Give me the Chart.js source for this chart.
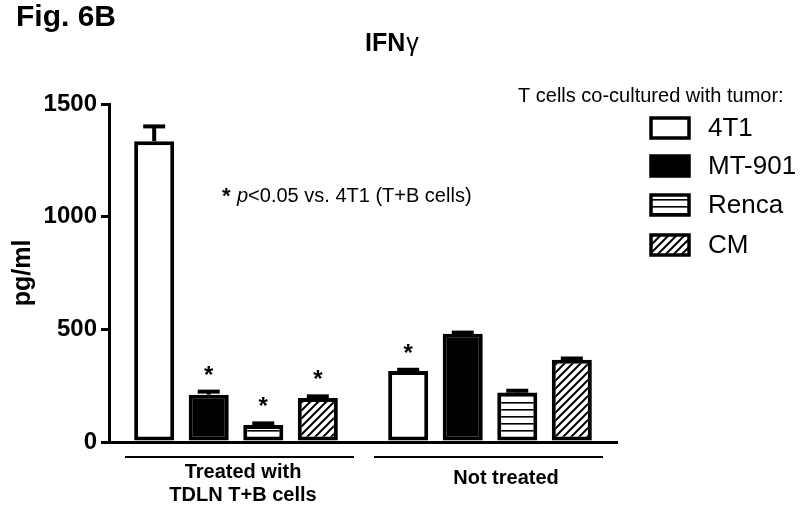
<!DOCTYPE html>
<html>
<head>
<meta charset="utf-8">
<script src="https://cdn.jsdelivr.net/npm/chart.js@4/dist/chart.umd.min.js"></script>
<style>
  html,body{margin:0;padding:0;background:#fff;}
  canvas{display:block;}
</style>
</head>
<body>
<canvas id="c" width="800" height="506"></canvas>
<script>
/* ========= DATA ========= */
const groups   = ['Treated with TDLN T+B cells', 'Not treated'];
const series   = ['4T1', 'MT-901', 'Renca', 'CM'];
const means    = [[1335, 315], [210, 480], [75, 220], [195, 365]];
const errs     = [[70, 10], [18, 10], [12, 12], [12, 10]];
const stars    = [[false, true], [true, false], [true, false], [true, false]];
const yTicks   = [0, 500, 1000, 1500];

const FONT = '"Liberation Sans", Arial, sans-serif';
const ctx = document.getElementById('c').getContext('2d');

/* ========= PATTERNS ========= */
function makeStripes(){
  const c = document.createElement('canvas'); c.width = 7; c.height = 7;
  const g = c.getContext('2d');
  g.fillStyle = '#fff'; g.fillRect(0,0,7,7);
  g.fillStyle = '#000'; g.fillRect(0,3,7,1.6);
  return ctx.createPattern(c, 'repeat');
}
function makeHatch(){
  const s = 8;
  const c = document.createElement('canvas'); c.width = s; c.height = s;
  const g = c.getContext('2d');
  g.fillStyle = '#fff'; g.fillRect(0,0,s,s);
  g.strokeStyle = '#000'; g.lineWidth = 2;
  g.beginPath();
  g.moveTo(0,s); g.lineTo(s,0);
  g.moveTo(-2,2); g.lineTo(2,-2);
  g.moveTo(s-2,s+2); g.lineTo(s+2,s-2);
  g.stroke();
  return ctx.createPattern(c, 'repeat');
}
const fills = ['#ffffff', '#000000', makeStripes(), makeHatch()];

/* ========= PLUGINS ========= */
const errorBars = {
  id: 'errorBars',
  afterDatasetsDraw(chart){
    const c = chart.ctx, y = chart.scales.y;
    c.save();
    c.strokeStyle = '#000'; c.lineCap = 'butt';
    chart.data.datasets.forEach((ds, di) => {
      chart.getDatasetMeta(di).data.forEach((bar, i) => {
        const top = y.getPixelForValue(means[di][i] + errs[di][i]);
        c.lineWidth = 4;
        c.beginPath(); c.moveTo(bar.x, bar.y); c.lineTo(bar.x, top); c.stroke();
        c.beginPath(); c.moveTo(bar.x - 11, top + 1); c.lineTo(bar.x + 11, top + 1); c.stroke();
        if (stars[di][i]) {
          c.fillStyle = '#000';
          c.font = 'bold 24px ' + FONT;
          c.textAlign = 'center'; c.textBaseline = 'alphabetic';
          c.fillText('*', bar.x, top - 22 + 14);
        }
      });
    });
    c.restore();
  }
};

const decor = {
  id: 'decor',
  afterDraw(chart){
    const c = chart.ctx, x = chart.scales.x;
    c.save();
    c.fillStyle = '#000'; c.strokeStyle = '#000';
    // figure label and title
    c.textAlign = 'left'; c.textBaseline = 'alphabetic';
    c.font = 'bold 30px ' + FONT;
    c.fillText('Fig. 6B', 16, 26);
    c.font = 'bold 25px ' + FONT;
    c.fillText('IFN', 365, 51);
    const iw = c.measureText('IFN').width;
    c.font = '25px ' + FONT;
    c.fillText('\u03b3', 366 + iw, 51);

    // note
    c.font = 'bold 22px ' + FONT;
    c.fillText('*', 222, 203);
    c.font = 'italic 20px ' + FONT;
    c.fillText('p', 237, 202);
    const pw = c.measureText('p').width;
    c.font = '20px ' + FONT;
    c.fillText('<0.05 vs. 4T1 (T+B cells)', 237 + pw, 202);

    // group lines + labels
    const g0 = x.getPixelForValue(0), g1 = x.getPixelForValue(1);
    c.lineWidth = 2;
    c.beginPath();
    c.moveTo(g0 - 111, 457); c.lineTo(g0 + 118, 457);
    c.moveTo(g1 - 116, 457); c.lineTo(g1 + 113, 457);
    c.stroke();
    c.font = 'bold 20px ' + FONT;
    c.textAlign = 'center'; c.textBaseline = 'middle';
    c.fillText('Treated with', g0 + 7, 472);
    c.fillText('TDLN T+B cells', g0 + 7, 495);
    c.fillText('Not treated', g1 + 16, 478);

    // legend
    c.textAlign = 'left';
    c.font = '20px ' + FONT;
    c.fillText('T cells co-cultured with tumor:', 518, 96);
    const rows = [128, 166, 205, 245];
    series.forEach((s, i) => {
      c.fillStyle = fills[i];
      c.fillRect(651, rows[i] - 10, 38, 20);
      c.lineWidth = 3.5; c.strokeStyle = '#000';
      c.strokeRect(651, rows[i] - 10, 38, 20);
      c.fillStyle = '#000';
      c.font = '26px ' + FONT;
      c.fillText(s, 708, rows[i] + 1);
    });
    c.restore();
  }
};

/* ========= CHART ========= */
new Chart(ctx, {
  type: 'bar',
  data: {
    labels: groups,
    datasets: series.map((s, i) => ({
      label: s,
      data: means[i],
      backgroundColor: fills[i],
      borderColor: '#000',
      borderWidth: 4,
      borderSkipped: false,
      categoryPercentage: 0.859,
      barPercentage: 0.734
    }))
  },
  options: {
    responsive: false,
    animation: false,
    devicePixelRatio: 1,
    layout: { padding: { top: 104, right: 183, bottom: 60, left: 0 } },
    plugins: { legend: { display: false }, tooltip: { enabled: false } },
    scales: {
      x: {
        grid: { display: false },
        border: { display: true, color: '#000', width: 3 },
        ticks: { display: false },
        afterFit(s){ s.height = 4; }
      },
      y: {
        min: 0, max: 1500,
        afterBuildTicks(s){ s.ticks = yTicks.map(v => ({ value: v })); },
        grid: { drawOnChartArea: false, drawTicks: true, tickLength: 8, color: '#000', lineWidth: 3 },
        border: { color: '#000', width: 3 },
        ticks: { color: '#000', padding: 4, font: { family: FONT, size: 24, weight: 'bold' },
                 callback: v => String(v) },
        title: { display: true, text: 'pg/ml', color: '#000', padding: { top: 8, bottom: 0 },
                 font: { family: FONT, size: 25, weight: 'bold' } },
        afterFit(s){ s.width = 109; }
      }
    }
  },
  plugins: [errorBars, decor]
});
</script>
</body>
</html>
